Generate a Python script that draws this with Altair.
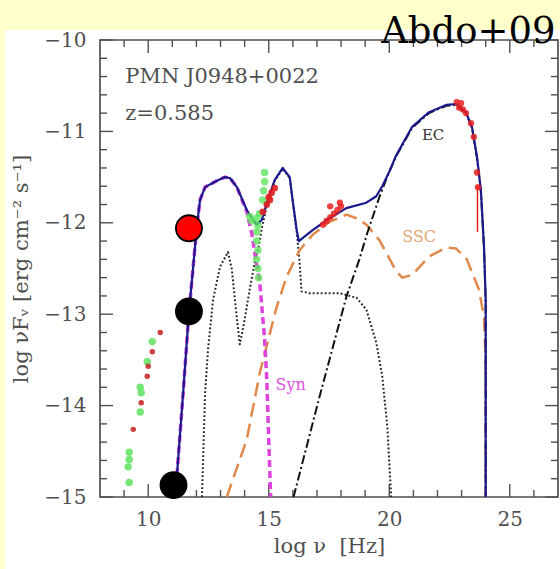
import altair as alt
import pandas as pd

# ---- SED model components: log nu [Hz] vs log nuFnu [erg cm^-2 s^-1] ----
tot_x = [11.12, 11.20, 11.45, 11.69, 12.02, 12.15, 12.36, 12.77, 13.18, 13.39, 13.68, 14.09,
         14.30, 14.50, 14.71, 14.96, 15.25, 15.58, 15.87, 15.99, 16.16, 16.25, 16.82, 17.52,
         18.22, 19.05, 19.46, 19.71, 20.00, 20.29, 20.95, 21.65, 22.36, 22.77, 23.18, 23.43,
         23.64, 23.80, 23.93, 24.00, 24.00]
tot_y = [-15.0, -14.73, -13.86, -12.98, -12.04, -11.75, -11.61, -11.55, -11.50, -11.51, -11.61, -11.86,
         -11.95, -12.02, -11.97, -11.75, -11.53, -11.40, -11.50, -11.75, -12.08, -12.20, -12.08, -11.95,
         -11.84, -11.78, -11.71, -11.60, -11.44, -11.26, -10.95, -10.79, -10.71, -10.70, -10.79, -10.95,
         -11.28, -11.64, -12.26, -12.84, -15.0]

syn_x = [11.12, 11.20, 11.45, 11.69, 12.02, 12.15, 12.36, 12.77, 13.18, 13.39, 13.68, 14.09,
         14.30, 14.45, 14.63, 14.83, 14.92, 15.00, 15.08]
syn_y = [-15.0, -14.73, -13.86, -12.98, -12.04, -11.75, -11.61, -11.55, -11.50, -11.51, -11.61, -11.88,
         -12.12, -12.38, -12.66, -13.28, -13.72, -14.37, -15.0]

dsk_x = [12.23, 12.36, 12.48, 12.69, 12.98, 13.31, 13.47, 13.64, 13.80, 14.00, 14.21, 14.42,
         14.59, 14.71, 14.96, 15.25, 15.58, 15.87, 15.99, 16.16, 16.28, 16.36, 16.69, 17.93,
         18.64, 19.05, 19.46, 19.71, 19.92, 20.08]
dsk_y = [-15.0, -13.86, -13.39, -12.84, -12.48, -12.32, -12.51, -12.95, -13.33, -13.06, -12.73, -12.43,
         -12.25, -12.06, -11.77, -11.54, -11.41, -11.51, -11.76, -12.10, -12.43, -12.75, -12.77, -12.77,
         -12.82, -12.95, -13.31, -13.68, -14.23, -15.0]

ssc_x = [13.26, 14.09, 14.63, 15.33, 15.74, 16.28, 16.82, 17.52, 18.22, 18.64, 19.05, 19.59,
         20.29, 20.54, 20.95, 21.65, 22.36, 22.77, 23.22, 23.72, 23.93, 24.00, 24.00]
ssc_y = [-15.0, -14.37, -13.64, -12.92, -12.59, -12.30, -12.13, -11.99, -11.91, -11.95, -12.02, -12.19,
         -12.53, -12.60, -12.57, -12.37, -12.27, -12.28, -12.40, -12.73, -13.03, -13.50, -15.0]

ec_x = [16.03, 17.11, 18.22, 18.76, 19.09, 19.59, 19.88, 20.29, 20.95, 21.65, 22.36, 22.77,
        23.18, 23.43, 23.64, 23.80, 23.93, 24.00, 24.00]
ec_y = [-15.0, -13.90, -12.81, -12.40, -12.11, -11.72, -11.52, -11.27, -10.96, -10.80, -10.72, -10.71,
        -10.80, -10.96, -11.29, -11.65, -12.27, -12.85, -15.0]

# ---- observed fluxes ----
radio_green_x = [10.17, 9.96, 9.67, 9.71, 9.67, 9.21, 9.21, 9.17, 9.21]
radio_green_y = [-13.30, -13.52, -13.80, -13.86, -14.07, -14.51, -14.59, -14.67, -14.84]
radio_red_x = [10.50, 10.17, 10.00, 9.96, 9.71, 9.38]
radio_red_y = [-13.20, -13.41, -13.57, -13.68, -13.97, -14.26]

opt_green_x = [14.83, 14.83, 14.79, 14.75, 14.62, 14.21, 14.30, 14.50, 14.55, 14.50, 14.50,
               14.55, 14.50, 14.55, 14.58]
opt_green_y = [-11.45, -11.55, -11.65, -11.75, -11.90, -11.93, -11.98, -11.95, -12.03, -12.10, -12.20,
               -12.30, -12.40, -12.50, -12.60]
opt_red_x = [14.75, 14.92, 15.00, 15.12, 15.25, 15.05]
opt_red_y = [-11.88, -11.80, -11.72, -11.67, -11.62, -11.75]

xray_x = [17.25, 17.40, 17.55, 17.70, 17.85, 18.00, 17.55, 17.95]
xray_y = [-12.02, -11.98, -11.94, -11.90, -11.86, -11.82, -11.82, -11.78]

gamma_x = [22.80, 22.90, 22.98, 23.05, 23.18, 23.39, 23.51, 23.64, 23.68]
gamma_y = [-10.68, -10.74, -10.69, -10.76, -10.80, -10.91, -11.06, -11.45, -11.61]
gamma_err_x = [23.66]
gamma_err_lo = [-12.10]
gamma_err_hi = [-11.60]

# ---- highlighted markers ----
mark_x = [11.05, 11.69, 11.69]
mark_y = [-14.87, -12.97, -12.06]
mark_fill = ["#000000", "#000000", "#ff0000"]

# ---- axis ticks ----
x_major = [10, 15, 20, 25]
x_minor = [9, 11, 12, 13, 14, 16, 17, 18, 19, 21, 22, 23, 24, 26]
y_major = [-15, -14, -13, -12, -11, -10]
y_minor = [round(-15 + 0.2 * i, 1) for i in range(26) if i % 5 != 0]

W, H = 458, 457
X0, X1, Y0, Y1 = 8, 27, -15, -10
GREY = "#505050"
SERIF = "DejaVu Serif"
NBSP = "\u00a0"

xsc = alt.Scale(domain=[X0, X1], nice=False, zero=False)
ysc = alt.Scale(domain=[Y0, Y1], nice=False, zero=False)

x_axis = alt.Axis(title=f"log ν{NBSP}{NBSP}[Hz]", values=x_major, format="d", ticks=False,
                  domain=False, grid=False, zindex=2, labelFont=SERIF, labelFontSize=20,
                  labelColor=GREY, labelPadding=12, titleFont=SERIF, titleFontSize=21,
                  titleFontWeight="normal", titleColor=GREY, titlePadding=6)
y_axis = alt.Axis(title="log νFᵥ [erg cm⁻² s⁻¹]", values=y_major, format="d", ticks=False,
                  domain=False, grid=False, zindex=2, labelFont=SERIF, labelFontSize=20,
                  labelColor=GREY, labelPadding=14, titleFont=SERIF, titleFontSize=21,
                  titleFontWeight="normal", titleColor=GREY, titlePadding=12)


def X(field="x"):
    return alt.X(f"{field}:Q", scale=xsc, axis=x_axis)


def Y(field="y"):
    return alt.Y(f"{field}:Q", scale=ysc, axis=y_axis)


def table(xs, ys):
    return pd.DataFrame({"x": xs, "y": ys, "k": list(range(len(xs)))})


def curve(xs, ys, color, width, dash=None):
    kw = dict(color=color, strokeWidth=width, clip=True, strokeJoin="round")
    if dash:
        kw["strokeDash"] = dash
    return alt.Chart(table(xs, ys)).mark_line(**kw).encode(x=X(), y=Y(), order="k:Q")


def points(xs, ys, color, size, opacity=1.0):
    return alt.Chart(table(xs, ys)).mark_circle(color=color, size=size, opacity=opacity).encode(
        x=X(), y=Y())


one_row = pd.DataFrame({"a": [0]})

# white panel behind the plot
panel = alt.Chart(one_row).mark_rect(color="white").encode(
    x=alt.value(-95), x2=alt.value(W + 2), y=alt.value(-10), y2=alt.value(H + 72))

# plot frame
frame = alt.Chart(one_row).mark_rect(filled=False, stroke=GREY, strokeWidth=1.7).encode(
    x=alt.value(0), x2=alt.value(W), y=alt.value(0), y2=alt.value(H))

# inward tick marks on all four sides
dpx_x = (X1 - X0) / W
dpx_y = (Y1 - Y0) / H
vt_rows, ht_rows = [], []
for vals, L in ((x_major, 13), (x_minor, 7)):
    for v in vals:
        vt_rows.append({"x": v, "y": Y0, "y2": Y0 + L * dpx_y})
        vt_rows.append({"x": v, "y": Y1, "y2": Y1 - L * dpx_y})
for vals, L in ((y_major, 13), (y_minor, 7)):
    for v in vals:
        ht_rows.append({"y": v, "x": X0, "x2": X0 + L * dpx_x})
        ht_rows.append({"y": v, "x": X1, "x2": X1 - L * dpx_x})
vticks = alt.Chart(pd.DataFrame(vt_rows)).mark_rule(color=GREY, strokeWidth=1.4).encode(
    x=X(), y=Y(), y2="y2:Q")
hticks = alt.Chart(pd.DataFrame(ht_rows)).mark_rule(color=GREY, strokeWidth=1.4).encode(
    x=X(), x2="x2:Q", y=Y())

disk = curve(dsk_x, dsk_y, "#222222", 2.0, [1.8, 2.2])
ssc = curve(ssc_x, ssc_y, "#e0894a", 2.5, [14, 7])
ec = curve(ec_x, ec_y, "#111111", 2.0, [9, 3, 2, 3])
syn = curve(syn_x, syn_y, "#dd44dd", 3.5, [7, 4])
total = curve(tot_x, tot_y, "#1a1a8c", 2.2)

p_rg = points(radio_green_x, radio_green_y, "#5ee35e", 55, 0.85)
p_rr = points(radio_red_x, radio_red_y, "#c42a2a", 30, 0.9)
p_og = points(opt_green_x, opt_green_y, "#5ee35e", 55, 0.8)
p_or = points(opt_red_x, opt_red_y, "#e02020", 45, 0.9)
p_xr = points(xray_x, xray_y, "#e82020", 40, 0.85)
p_gr = points(gamma_x, gamma_y, "#e82020", 40, 0.85)
g_err = alt.Chart(pd.DataFrame({"x": gamma_err_x, "y": gamma_err_lo, "y2": gamma_err_hi})).mark_rule(
    color="#e82020", strokeWidth=1.5).encode(x=X(), y=Y(), y2="y2:Q")

big = alt.Chart(pd.DataFrame({"x": mark_x, "y": mark_y, "fill": mark_fill})).mark_circle(
    size=680, opacity=1, stroke="black", strokeWidth=1.8).encode(
    x=X(), y=Y(), fill=alt.Fill("fill:N", scale=None))


def label(text, x, y, color, size, align="left"):
    return alt.Chart(one_row).mark_text(
        text=text, font=SERIF, fontSize=size, color=color, align=align, baseline="alphabetic").encode(
        x=alt.X(datum=x, scale=xsc, axis=x_axis), y=alt.Y(datum=y, scale=ysc, axis=y_axis))


t_src = label("PMN J0948+0022", 9.05, -10.47, GREY, 21)
t_z = label("z=0.585", 9.05, -10.874, GREY, 21)
t_ec = label("EC", 21.82, -11.093, "#333333", 15, "center")
t_ssc = label("SSC", 21.24, -12.21, "#e6a678", 16, "center")
t_syn = label("Syn", 15.91, -13.83, "#dd55dd", 16, "center")
t_ref = label("Abdo+09", 26.9, -10.03, "#000000", 37, "right")

chart = alt.layer(
    panel, frame, vticks, hticks, disk, ssc, ec, syn, total,
    p_rg, p_rr, p_og, p_or, p_xr, g_err, p_gr,
    t_src, t_z, t_ec, t_ssc, t_syn, big, t_ref,
).properties(
    width=W, height=H,
    autosize=alt.AutoSizeParams(type="none"),
    padding={"left": 100, "top": 40, "right": 2, "bottom": 72},
    background="#FFFFCC",
).configure_view(strokeWidth=0)

chart.save("out.html", embed_options={"renderer": "svg", "actions": False})
